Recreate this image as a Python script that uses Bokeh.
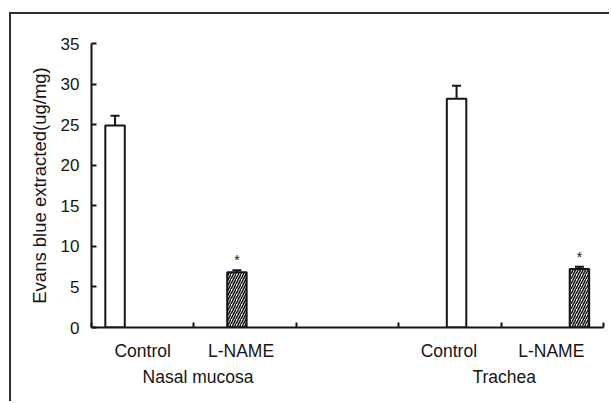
from bokeh.plotting import figure
from bokeh.models import (ColumnDataSource, FixedTicker, LinearAxis, Whisker,
                          TeeHead, Range1d)
from bokeh.core.properties import value
from bokeh.embed import file_html
from bokeh.resources import INLINE

# ---- data ----
groups = ["Nasal mucosa", "Trachea"]
group_pos = [1.04, 4.03]
treatments = ["Control", "L-NAME", "Control", "L-NAME"]
label_pos = [0.5, 1.46, 3.49, 4.49]
bar_x = [0.23, 1.42, 3.565, 4.765]
means = [24.9, 6.8, 28.2, 7.2]
errors = [1.2, 0.25, 1.6, 0.3]
is_lname = [False, True, False, True]
y_ticks = [0, 5, 10, 15, 20, 25, 30, 35]
x_ticks = [0, 1, 2, 3, 4, 5]

FONT = "Liberation Sans"
INK = "#151515"

p = figure(width=600, height=389, output_backend="svg", toolbar_location=None,
           x_range=Range1d(0, 5), y_range=Range1d(0, 35),
           min_border_left=80, min_border_right=8, min_border_top=29,
           min_border_bottom=76)
p.styles = {"margin-left": "9px", "margin-top": "12px",
            "border-left": "2px solid #303030", "border-top": "2px solid #303030"}
p.outline_line_color = None
p.xgrid.visible = False
p.ygrid.visible = False
p.background_fill_color = "white"
p.border_fill_color = "white"

ctrl = ColumnDataSource(dict(x=[x for x, l in zip(bar_x, is_lname) if not l],
                             top=[m for m, l in zip(means, is_lname) if not l]))
lnm = ColumnDataSource(dict(x=[x for x, l in zip(bar_x, is_lname) if l],
                            top=[m for m, l in zip(means, is_lname) if l]))
p.vbar(x="x", top="top", width=0.19, bottom=0, source=ctrl,
       fill_color="white", line_color=INK, line_width=2)
p.vbar(x="x", top="top", width=0.19, bottom=0, source=lnm,
       fill_color="white", line_color=INK, line_width=2,
       hatch_pattern="/", hatch_color=INK, hatch_scale=5, hatch_weight=1.6)

err_src = ColumnDataSource(dict(x=bar_x, lower=means,
                                upper=[m + e for m, e in zip(means, errors)]))
w = Whisker(base="x", lower="lower", upper="upper", source=err_src,
            line_color=INK, line_width=2, lower_head=None,
            upper_head=TeeHead(size=9, line_color=INK, line_width=2))
p.add_layout(w)

star_src = ColumnDataSource(dict(
    x=[x for x, l in zip(bar_x, is_lname) if l],
    y=[m + e for m, e, l in zip(means, errors, is_lname) if l],
    t=["*" for l in is_lname if l]))
p.text(x="x", y="y", text="t", source=star_src, text_align="center",
       text_baseline="middle", y_offset=-10, text_font=value(FONT),
       text_font_size="14px", text_color=INK)

# y axis
ya = p.yaxis[0]
ya.ticker = FixedTicker(ticks=y_ticks)
ya.major_tick_in = 5
ya.major_tick_out = 0
ya.minor_tick_in = 0
ya.minor_tick_out = 0
ya.axis_line_width = 2
ya.axis_line_color = INK
ya.major_tick_line_width = 2
ya.major_tick_line_color = INK
ya.major_label_text_font = FONT
ya.major_label_text_font_size = "17px"
ya.major_label_text_color = INK
ya.major_label_standoff = 12
ya.axis_label = "Evans blue extracted(ug/mg)"
ya.axis_label_text_font = FONT
ya.axis_label_text_font_size = "18.5px"
ya.axis_label_text_font_style = "normal"
ya.axis_label_text_color = INK
ya.axis_label_standoff = 8

# x axis: treatment labels as major labels, group boundaries as minor ticks
xa = p.xaxis[0]
xa.ticker = FixedTicker(ticks=label_pos, minor_ticks=x_ticks)
xa.major_label_overrides = {v: t for v, t in zip(label_pos, treatments)}
xa.major_tick_in = 0
xa.major_tick_out = 0
xa.major_tick_line_color = None
xa.minor_tick_in = 5
xa.minor_tick_out = 0
xa.minor_tick_line_width = 2
xa.minor_tick_line_color = INK
xa.axis_line_width = 2
xa.axis_line_color = INK
xa.major_label_standoff = 13
xa.major_label_text_font = FONT
xa.major_label_text_font_size = "17.5px"
xa.major_label_text_color = INK

# group labels
ga = LinearAxis(ticker=FixedTicker(ticks=group_pos),
                major_label_overrides={v: t for v, t in zip(group_pos, groups)},
                axis_line_color=None, major_tick_line_color=None,
                minor_tick_line_color=None, major_label_standoff=-3,
                major_label_text_font=FONT, major_label_text_font_size="17.5px",
                major_label_text_color=INK)
p.add_layout(ga, "below")

open("out.html", "w").write(file_html(p, INLINE))
